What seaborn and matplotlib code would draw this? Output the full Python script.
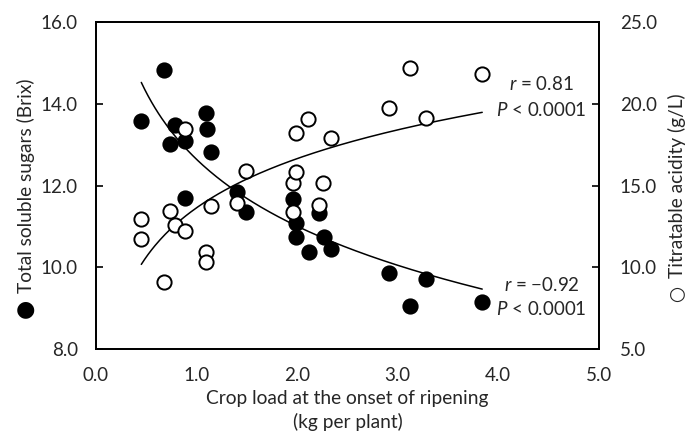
import matplotlib
matplotlib.use("Agg")
import matplotlib.pyplot as plt
import numpy as np
import pandas as pd
import seaborn as sns

# Total soluble sugars (filled circles, left axis)
sugar_load = [0.45, 0.68, 0.74, 0.79, 0.88, 0.88, 1.09, 1.10, 1.14, 1.40, 1.49,
              1.96, 1.99, 1.99, 2.12, 2.22, 2.27, 2.34, 2.91, 3.12, 3.28, 3.84]
sugar_brix = [13.58, 14.82, 13.02, 13.48, 13.10, 11.70, 13.78, 13.38, 12.81, 11.83, 11.34,
              11.67, 11.08, 10.75, 10.38, 11.32, 10.75, 10.44, 9.86, 9.04, 9.71, 9.16]

# Titratable acidity (open circles, right axis)
acid_load = [0.45, 0.45, 0.68, 0.74, 0.79, 0.88, 0.88, 1.09, 1.09, 1.14, 1.40, 1.49,
             1.96, 1.96, 1.99, 1.99, 2.11, 2.22, 2.26, 2.34, 2.91, 3.12, 3.28, 3.84]
acid_gl = [12.93, 11.73, 9.12, 13.44, 12.58, 18.44, 12.22, 10.95, 10.34, 13.75, 13.91, 15.87,
           15.13, 13.40, 18.23, 15.84, 19.05, 13.81, 15.13, 17.89, 19.72, 22.19, 19.11, 21.80]

# log trend lines shown on the chart: y = a + b * ln(x)
sugar_fit = (12.64, -2.36)
acid_fit = (13.64, 4.34)

sugar_stats = ["$\\it{r}$ = \u22120.92", "$\\it{P}$ < 0.0001"]
acid_stats = ["$\\it{r}$ = 0.81", "$\\it{P}$ < 0.0001"]

sns.set_theme(style="white")
plt.rcParams["font.family"] = ["Lato", "DejaVu Sans"]
plt.rcParams["mathtext.fontset"] = "custom"
plt.rcParams["mathtext.it"] = "Lato:italic"
plt.rcParams["mathtext.rm"] = "Lato"
text_color = "#262626"
fs = 13.5

sugar_df = pd.DataFrame({"load": sugar_load, "value": sugar_brix})
acid_df = pd.DataFrame({"load": acid_load, "value": acid_gl})

fig = plt.figure(figsize=(6.86, 4.34), dpi=100)
ax = fig.add_axes([0.14, 0.196, 0.733, 0.753])
ax2 = ax.twinx()

sns.scatterplot(data=sugar_df, x="load", y="value", ax=ax, color="black",
                s=110, edgecolor="black", linewidth=1.2, zorder=3)
sns.scatterplot(data=acid_df, x="load", y="value", ax=ax2, color="white",
                s=105, edgecolor="black", linewidth=1.4, zorder=3)

for frame, axis, (a, b) in [(sugar_df, ax, sugar_fit), (acid_df, ax2, acid_fit)]:
    xs = np.linspace(frame["load"].min(), frame["load"].max(), 200)
    axis.plot(xs, a + b * np.log(xs), color="black", linewidth=1.1, zorder=2)

ax.set_xlim(0, 5)
ax.set_ylim(8, 16)
ax2.set_ylim(5, 25)
ax.set_xticks(np.arange(0, 5.1, 1))
ax.set_yticks(np.arange(8, 16.1, 2))
ax2.set_yticks(np.arange(5, 25.1, 5))
ax.xaxis.set_major_formatter(matplotlib.ticker.FormatStrFormatter("%.1f"))
ax.yaxis.set_major_formatter(matplotlib.ticker.FormatStrFormatter("%.1f"))
ax2.yaxis.set_major_formatter(matplotlib.ticker.FormatStrFormatter("%.1f"))

for axis in (ax, ax2):
    for spine in axis.spines.values():
        spine.set_visible(True)
        spine.set_color("black")
        spine.set_linewidth(1.3)
ax.tick_params(axis="both", direction="in", length=5, width=1.2, color="black",
               labelsize=fs, labelcolor=text_color)
ax.tick_params(axis="y", pad=13)
ax.tick_params(axis="x", pad=13)
ax2.tick_params(axis="y", direction="in", length=5, width=1.2, color="black",
                labelsize=fs, labelcolor=text_color, pad=15)

ax.set_xlabel("Crop load at the onset of ripening\n(kg per plant)",
              fontsize=13.8, color=text_color, labelpad=4, linespacing=1.4)
ax.set_ylabel("Total soluble sugars (Brix)", fontsize=13.8, color=text_color,
              labelpad=4)
ax2.set_ylabel("Titratable acidity (g/L)", fontsize=13.8, color=text_color,
               rotation=90, labelpad=8)

# series symbols in front of the axis titles
fig.text(25 / 686, 1 - 309 / 434, "\u25CF", fontsize=16, family="DejaVu Sans",
         color="black", ha="center", va="center")
fig.text(677 / 686, 1 - 294 / 434, "\u25CB", fontsize=14, family="DejaVu Sans",
         color=text_color, ha="center", va="center")

for txt, yv in zip(acid_stats, [14.48, 13.85]):
    ax.text(4.43, yv, txt, ha="center", va="center", fontsize=fs, color=text_color)
for txt, yv in zip(sugar_stats, [9.57, 8.98]):
    ax.text(4.43, yv, txt, ha="center", va="center", fontsize=fs, color=text_color)

fig.savefig("out.png", dpi=100)
